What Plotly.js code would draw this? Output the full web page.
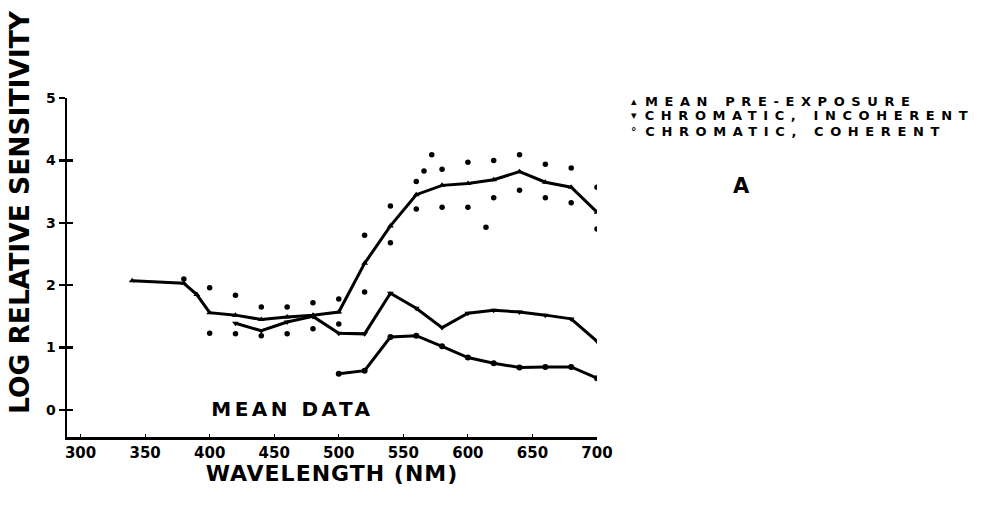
<!DOCTYPE html>
<html>
<head>
<meta charset="utf-8">
<script src="https://cdn.plot.ly/plotly-3.0.1.min.js"></script>
<style>
html,body{margin:0;padding:0;background:#fff;}
g.annotation[data-index="1"] text{letter-spacing:3.5px;}
g.annotation[data-index="3"] text,g.annotation[data-index="4"] text,g.annotation[data-index="5"] text{letter-spacing:6.6px;}
.g-xtitle text{letter-spacing:1px;}
</style>
</head>
<body>
<div id="chart" style="width:983px;height:511px;"></div>
<script>
// Mean pre-exposure curve
var preWl = [340, 380, 390, 400, 420, 440, 460, 480, 500, 520, 540, 560, 580, 600, 620, 640, 660, 680, 700];
var preVal = [2.07, 2.03, 1.85, 1.56, 1.52, 1.45, 1.49, 1.52, 1.57, 2.35, 2.95, 3.45, 3.6, 3.63, 3.69, 3.82, 3.65, 3.57, 3.17];

// Scatter of individual points above the mean
var upperWl = [380, 400, 420, 440, 460, 480, 500, 520, 540, 560, 566, 572, 580, 600, 620, 640, 660, 680, 700];
var upperVal = [2.1, 1.96, 1.84, 1.65, 1.65, 1.72, 1.78, 2.8, 3.27, 3.66, 3.83, 4.09, 3.86, 3.97, 4.0, 4.09, 3.94, 3.88, 3.57];

// Scatter of individual points below the mean
var lowerWl = [400, 420, 440, 460, 480, 500, 520, 540, 560, 580, 600, 614, 620, 640, 660, 680, 700];
var lowerVal = [1.23, 1.22, 1.19, 1.22, 1.3, 1.38, 1.89, 2.68, 3.22, 3.25, 3.25, 2.93, 3.4, 3.52, 3.4, 3.32, 2.9];

// Chromatic, incoherent
var incohWl = [420, 440, 460, 480, 500, 520, 540, 560, 580, 600, 620, 640, 660, 680, 700];
var incohVal = [1.39, 1.27, 1.41, 1.5, 1.23, 1.22, 1.87, 1.63, 1.32, 1.55, 1.6, 1.57, 1.52, 1.46, 1.1];

// Chromatic, coherent
var cohWl = [500, 520, 540, 560, 580, 600, 620, 640, 660, 680, 700];
var cohVal = [0.58, 0.63, 1.17, 1.19, 1.02, 0.84, 0.75, 0.68, 0.69, 0.69, 0.51];

var xTicks = [300, 350, 400, 450, 500, 550, 600, 650, 700];
var yTicks = [0, 1, 2, 3, 4, 5];

var legendNames = ['MEAN PRE-EXPOSURE', 'CHROMATIC, INCOHERENT', 'CHROMATIC, COHERENT'];
var legendSymbols = ['\u25B4', '\u25BE', '\u00B0'];

var F = 'DejaVu Sans, Arial, sans-serif';

var traces = [
  {x: preWl, y: preVal, mode: 'lines+markers', line: {color: '#000', width: 3},
   marker: {symbol: 'triangle-up', size: 6, color: '#000'}, showlegend: false},
  {x: incohWl, y: incohVal, mode: 'lines+markers', line: {color: '#000', width: 3},
   marker: {symbol: 'triangle-down', size: 6, color: '#000'}, showlegend: false},
  {x: cohWl, y: cohVal, mode: 'lines+markers', line: {color: '#000', width: 3},
   marker: {symbol: 'circle', size: 6, color: '#000'}, showlegend: false},
  {x: upperWl, y: upperVal, mode: 'markers', marker: {symbol: 'circle', size: 5.5, color: '#000'}, showlegend: false},
  {x: lowerWl, y: lowerVal, mode: 'markers', marker: {symbol: 'circle', size: 5.5, color: '#000'}, showlegend: false},
  {x: [], y: [], yaxis: 'y2', mode: 'markers', showlegend: false, hoverinfo: 'skip'}
];

// plot area in pixels
var L = 67, W = 530, B = 437, H = 339;
function px2paperX(p) { return (p - L) / W; }
function px2paperY(p) { return (B - p) / H; }

var ann = [
  {text: 'LOG RELATIVE SENSITIVITY', xref: 'paper', yref: 'paper', x: px2paperX(19), y: px2paperY(212),
   xanchor: 'center', yanchor: 'middle',
   textangle: -90, showarrow: false, font: {family: F, size: 26.5, weight: 'bold', color: '#000'}},
  {text: 'MEAN DATA', xref: 'x', yref: 'y', x: 464, y: 0.02, xanchor: 'center', yanchor: 'middle', showarrow: false,
   font: {family: F, size: 20, weight: 'bold', color: '#000'}},
  {text: 'A', xref: 'paper', yref: 'paper', x: px2paperX(741), y: px2paperY(186), xanchor: 'center', yanchor: 'middle',
   showarrow: false, font: {family: F, size: 21, weight: 'bold', color: '#000'}}
];
var legYpx = [101, 116, 131];
var legTextLeft = 645;
for (var i = 0; i < 3; i++) {
  ann.push({text: legendNames[i], xref: 'paper', yref: 'paper', x: px2paperX(legTextLeft + 150), y: px2paperY(legYpx[i]),
    xanchor: 'center', yanchor: 'middle',
    showarrow: false, font: {family: F, size: 13, weight: 'bold', color: '#000'}});
}
for (var j = 0; j < 3; j++) {
  ann.push({text: legendSymbols[j], xref: 'paper', yref: 'paper', x: px2paperX(634), y: px2paperY(legYpx[j]),
    xanchor: 'center', yanchor: 'middle',
    showarrow: false, font: {family: F, size: 11, weight: 'bold', color: '#000'}});
}

var layout = {
  width: 983, height: 511,
  margin: {l: 67, r: 386, t: 98, b: 74},
  paper_bgcolor: '#fff', plot_bgcolor: '#fff',
  showlegend: false,
  xaxis: {
    range: [289.5, 700], tickvals: xTicks, ticktext: xTicks.map(String),
    showline: true, linecolor: '#000', linewidth: 2.5, showgrid: false, zeroline: false,
    ticks: 'inside', ticklen: 3, tickwidth: 1, tickcolor: '#000',
    tickfont: {family: F, size: 15, weight: 'bold', color: '#000'},
    title: {text: 'WAVELENGTH (NM)', standoff: 3, font: {family: F, size: 22, weight: 'bold', color: '#000'}}
  },
  yaxis: {
    range: [-0.433, 5.0], tickvals: yTicks, ticktext: yTicks.map(String),
    showline: true, linecolor: '#000', linewidth: 2.5, showgrid: false, zeroline: false,
    ticks: 'outside', ticklen: 6, tickwidth: 2.5, tickcolor: '#000', ticklabelstandoff: 0,
    tickfont: {family: F, size: 14, weight: 'bold', color: '#000'}
  },
  yaxis2: {
    range: [-0.433, 5.0], overlaying: 'y', side: 'left', tickvals: [0, 1, 2, 3, 4],
    showticklabels: false, showline: false, showgrid: false, zeroline: false,
    ticks: 'inside', ticklen: 6, tickwidth: 2.5, tickcolor: '#000'
  },
  annotations: ann
};

Plotly.newPlot('chart', traces, layout, {displayModeBar: false, staticPlot: true}).then(function (gd) {
  var upd = {};
  for (var k = 0; k < 3; k++) {
    var idx = 3 + k;
    var t = gd.querySelector('g.annotation[data-index="' + idx + '"] text');
    if (!t) continue;
    var w = t.getBBox().width;
    upd['annotations[' + idx + '].x'] = px2paperX(legTextLeft + w / 2);
  }
  return Plotly.relayout(gd, upd);
});
</script>
</body>
</html>
